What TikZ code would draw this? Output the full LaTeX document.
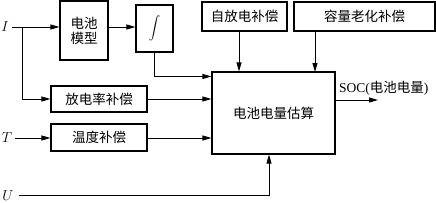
\documentclass[tikz,border=0pt]{standalone}
\usepackage{fontspec}
\setmainfont{Liberation Serif}
\newfontfamily\cjk{Noto Sans CJK SC}
\usetikzlibrary{arrows.meta, positioning}

\begin{document}
\begin{tikzpicture}[x=1pt, y=-1pt,
    base/.style={draw, line width=1.1pt, align=center, inner sep=0pt,
      font=\cjk\fontsize{13.5}{16}\selectfont},
    block/.style={base},
    varlabel/.style={inner sep=0pt, font=\fontsize{14}{16}\selectfont},
    arrow/.style={-{Triangle[length=9pt, width=5pt]}, line width=0.9pt},
]
\useasboundingbox (0,0) rectangle (436,202);
% Nodes
\node[block, minimum width=48pt, minimum height=59pt] (model) at (84,30.5)
    {电池\\[-1pt]模型};
\node[block, minimum width=37pt, minimum height=47pt] (integ) at (154.5,28.5)
    {\scalebox{1.15}{$\displaystyle\int$}};
\node[block, minimum width=85pt, minimum height=29pt] (selfd) at (244.5,16.5)
    {自放电补偿};
\node[block, minimum width=141pt, minimum height=29pt] (aging) at (364.5,16.5)
    {容量老化补偿};
\node[block, minimum width=96pt, minimum height=26pt] (rate) at (99,99)
    {放电率补偿};
\node[block, minimum width=96pt, minimum height=27pt] (temp) at (99,137.5)
    {温度补偿};
\node[block, minimum width=123pt, minimum height=82pt] (main) at (273.5,113)
    {电池电量估算};
\node[varlabel] (I) at (5,27) {$I$};
\node[varlabel] (T) at (7,138) {$T$};
\node[varlabel] (U) at (8,195.5) {$U$};
\node[varlabel, anchor=west, font=\fontsize{13.5}{16}\selectfont] (soc) at (339,88)
    {SOC({\cjk 电池电量})};
\coordinate (br) at (22,27);
\coordinate (agin) at (315,72);
\coordinate (socend) at (378,100);
% Arrows
\draw[arrow] ([xshift=3pt]I.east) -- (I.east -| model.west);
\draw[arrow] (br) |- (rate.west);
\draw[arrow] (model.east |- I.east) -- (integ.west |- I.east);
\draw[arrow] (integ.south) |- ([yshift=-5pt]main.north west);
\draw[arrow] (rate.east) -- (rate.east -| main.west);
\draw[arrow] ([xshift=3pt]T.east) -- (T.east -| temp.west);
\draw[arrow] (temp.east |- T.east) -- (T.east -| main.west);
\draw[arrow] ([xshift=5pt]U.east) -| ([xshift=-4.5pt]main.south);
\draw[arrow] ([xshift=-5.5pt]selfd.south) -- ([xshift=-5.5pt]selfd.south |- main.north);
\draw[arrow] (aging.south -| agin) -- (agin);
\draw[arrow] (socend -| main.east) -- (socend);
\end{tikzpicture}
\end{document}
